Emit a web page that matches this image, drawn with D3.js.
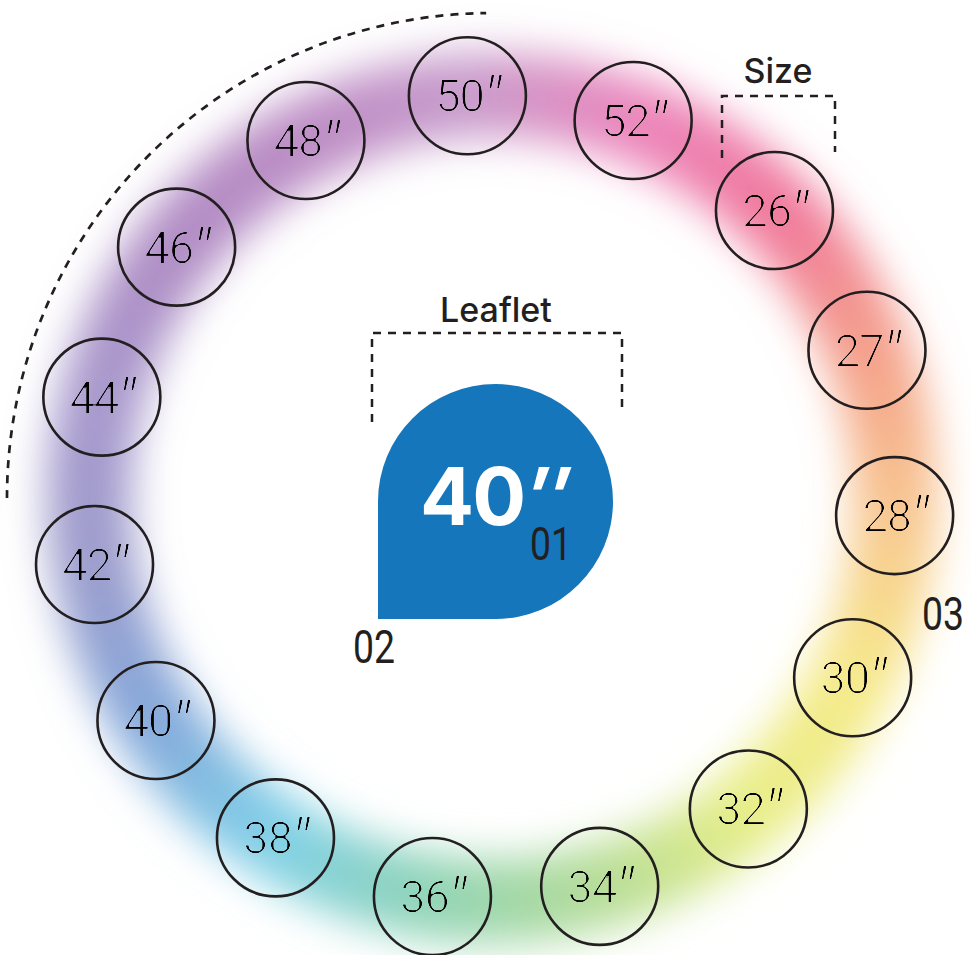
<!DOCTYPE html>
<html>
<head>
<meta charset="utf-8">
<script src="https://cdn.jsdelivr.net/npm/d3@7"></script>
<style>
  html, body { margin: 0; padding: 0; background: #ffffff; }
  svg { display: block; }
</style>
</head>
<body>
<div id="chart"></div>
<script>
// ---------------- data ----------------
const sizes = ["26″", "27″", "28″", "30″", "32″", "34″", "36″", "38″", "40″", "42″", "44″", "46″", "48″", "50″", "52″"];
const sizeColors = ["#f0789c", "#f4a08a", "#f8c890", "#f6ea8a", "#e8ee88", "#b4dc98", "#90d4b6", "#80d0e8", "#84a8da", "#9c9ccc", "#a898cc", "#b08cc4", "#bc8cc4", "#c89ccc", "#ec86bc"];
const sizeTitle = "Size";
const leafletTitle = "Leaflet";
const leafletValue = "40″";
const markerLabels = ["01", "02", "03"];

// ---------------- layout ----------------
const W = 971, H = 955;
const cx = 492, cy = 498;        // ring centre
const R = 403;                   // ring radius
const r = 58.5;                  // bubble radius
const startDeg = -45.5;          // screen angle of the first size
const stepDeg = 360 / sizes.length;

const svg = d3.select("#chart").append("svg")
  .attr("width", W).attr("height", H)
  .attr("viewBox", `0 0 ${W} ${H}`);

const defs = svg.append("defs");
defs.append("filter").attr("id", "blur")
  .attr("x", "-20%").attr("y", "-20%").attr("width", "140%").attr("height", "140%")
  .append("feGaussianBlur").attr("stdDeviation", 21);
const thin = defs.append("filter").attr("id", "thin");
thin.append("feMorphology").attr("operator", "erode").attr("radius", 0.55).attr("result", "er");
thin.append("feComponentTransfer").attr("in", "er")
  .append("feFuncA").attr("type", "linear").attr("slope", 1.7).attr("intercept", 0);

const angle = d3.scalePoint().domain(sizes)
  .range([startDeg, startDeg + stepDeg * (sizes.length - 1)]);
const rad = d => d * Math.PI / 180;

const stopAngles = sizes.map(s => angle(s) + 90).concat([angle(sizes[0]) + 90 + 360]);
const ringColor = d3.scaleLinear()
  .domain(stopAngles)
  .range(sizeColors.concat([sizeColors[0]]))
  .interpolate(d3.interpolateRgb);

// ---------------- blurred colour band ----------------
const band = svg.append("g").attr("transform", `translate(${cx},${cy})`).attr("filter", "url(#blur)");
const arcGen = d3.arc().innerRadius(R - 42).outerRadius(R + 42);
const segs = d3.range(stopAngles[0], stopAngles[stopAngles.length - 1], 1);
band.selectAll("path").data(segs).join("path")
  .attr("d", a => arcGen({ startAngle: rad(a), endAngle: rad(a + 1.4) }))
  .attr("fill", a => ringColor(a));

// ---------------- dashed outer arc ----------------
const p = d3.path();
p.arc(cx, cy, 485, Math.PI, 1.5 * Math.PI - 0.012, false);
svg.append("path").attr("d", p.toString())
  .attr("fill", "none").attr("stroke", "#231f20")
  .attr("stroke-width", 2.7).attr("stroke-dasharray", "8 7");

// ---------------- bubbles ----------------
const bubbles = svg.append("g").selectAll("g").data(sizes).join("g")
  .attr("transform", s => `translate(${cx + R * Math.cos(rad(angle(s)))},${cy + R * Math.sin(rad(angle(s)))})`);
bubbles.append("circle").attr("r", r)
  .attr("fill", "none").attr("stroke", "#231f20").attr("stroke-width", 2.6);
const lbl = bubbles.append("g").attr("filter", "url(#thin)").append("text")
  .attr("text-anchor", "middle").attr("x", 0).attr("y", 16.5)
  .attr("font-family", "Roboto, sans-serif")
  .attr("font-weight", 400)
  .attr("font-size", 46).attr("letter-spacing", -1.5)
  .attr("fill", "#000000");
lbl.append("tspan").text(s => s.slice(0, -1));
lbl.append("tspan").attr("font-style", "italic").attr("font-size", 60).attr("dy", 8).attr("dx", -1)
  .text(s => s.slice(-1));

// ---------------- Size bracket ----------------
const dash = g => g.attr("fill", "none").attr("stroke", "#231f20").attr("stroke-width", 2.5).attr("stroke-dasharray", "8 7");
svg.append("path").attr("d", "M722,158 L722,96 L835,96 L835,152").call(dash);
svg.append("text").attr("x", 778).attr("y", 83).attr("text-anchor", "middle")
  .attr("font-family", "Inter, 'Noto Sans', sans-serif").attr("font-weight", 500)
  .attr("font-size", 34).attr("fill", "#231f20").text(sizeTitle);

// ---------------- Leaflet ----------------
svg.append("path").attr("d", "M372,422 L372,333 L622,333 L622,412").call(dash);
svg.append("text").attr("x", 496).attr("y", 322).attr("text-anchor", "middle")
  .attr("font-family", "Inter, 'Noto Sans', sans-serif").attr("font-weight", 500)
  .attr("font-size", 34).attr("fill", "#231f20").text(leafletTitle);

const tx = 495.5, ty = 501.5, tr = 117.5;
svg.append("path")
  .attr("d", `M${tx - tr},${ty + tr} L${tx - tr},${ty} A${tr},${tr} 0 1 1 ${tx},${ty + tr} Z`)
  .attr("fill", "#1576bc");
const big = svg.append("text").attr("x", 494).attr("y", 525).attr("text-anchor", "middle")
  .attr("font-family", "Inter, 'Noto Sans', sans-serif").attr("font-weight", 700)
  .attr("font-size", 80).attr("letter-spacing", -2).attr("fill", "#ffffff");
big.append("tspan").text(leafletValue.slice(0, -1));
big.append("tspan").attr("font-style", "italic").attr("dx", 2).text(leafletValue.slice(-1));

// ---------------- markers ----------------
const markerPos = [[530, 560], [353, 663], [922, 630]];
svg.append("g").selectAll("text").data(markerLabels).join("text")
  .attr("x", (d, i) => markerPos[i][0]).attr("y", (d, i) => markerPos[i][1])
  .attr("textLength", 42).attr("lengthAdjust", "spacingAndGlyphs")
  .attr("font-family", "Roboto, 'Noto Sans', sans-serif").attr("font-weight", 400)
  .attr("font-size", 46).attr("fill", "#231f20")
  .text(d => d);
</script>
</body>
</html>
